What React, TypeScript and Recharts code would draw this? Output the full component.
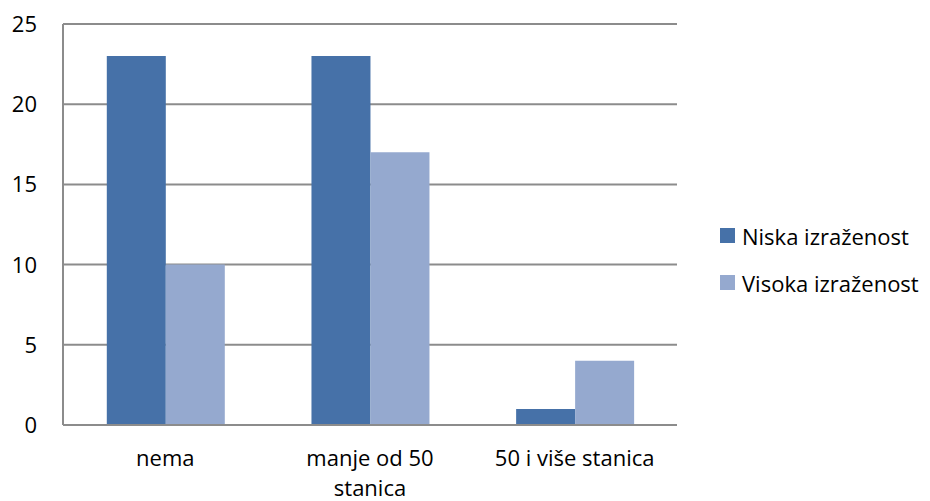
import React from 'react';
import { BarChart, Bar, XAxis, YAxis, CartesianGrid, Legend } from 'recharts';

const categories = ['nema', 'manje od 50 stanica', '50 i više stanica'];
const niska = [23, 23, 1];
const visoka = [10, 17, 4];
const yTicks = [0, 5, 10, 15, 20, 25];
const seriesNames = ['Niska izraženost', 'Visoka izraženost'];
const colors = ['#4671A8', '#95A9CF'];

const data = categories.map((c, i) => ({ name: c, niska: niska[i], visoka: visoka[i] }));

const FONT = "'Open Sans', sans-serif";
const FS = 22;

function wrapWords(text: string, maxWidth: number): string[] {
  let ctx: CanvasRenderingContext2D | null = null;
  try {
    ctx = document.createElement('canvas').getContext('2d');
  } catch (e) {
    ctx = null;
  }
  const measure = (s: string) => {
    if (ctx) {
      ctx.font = `${FS}px ${FONT}`;
      return ctx.measureText(s).width;
    }
    return s.length * FS * 0.55;
  };
  const words = text.split(' ');
  const lines: string[] = [];
  let cur = '';
  for (const w of words) {
    const t = cur ? cur + ' ' + w : w;
    if (cur && measure(t) > maxWidth) {
      lines.push(cur);
      cur = w;
    } else {
      cur = t;
    }
  }
  if (cur) lines.push(cur);
  return lines;
}

const XTick = (props: any) => {
  const { x, y, payload } = props;
  const lines = wrapWords(String(payload.value), 185);
  return (
    <text x={x} y={y + 41} textAnchor="middle" fill="#000" fontFamily={FONT} fontSize={FS}>
      {lines.map((l, i) => (
        <tspan key={i} x={x} dy={i === 0 ? 0 : 30}>
          {l}
        </tspan>
      ))}
    </text>
  );
};

const YTick = (props: any) => {
  const { x, y, payload } = props;
  return (
    <text x={x - 26} y={y + 8} textAnchor="end" fill="#000" fontFamily={FONT} fontSize={FS}>
      {payload.value}
    </text>
  );
};

const LegendContent = (props: any) => {
  const { payload } = props;
  return (
    <div style={{ fontFamily: FONT, fontSize: FS, color: '#000' }}>
      {(payload || []).map((p: any, i: number) => (
        <div key={i} style={{ display: 'flex', alignItems: 'center', height: 47 }}>
          <div style={{ width: 15, height: 15, background: p.color, marginRight: 7 }} />
          <span style={{ lineHeight: '22px', whiteSpace: 'nowrap' }}>{p.value}</span>
        </div>
      ))}
    </div>
  );
};

export default function App() {
  return (
    <div style={{ position: 'absolute', left: 0, top: 0, width: 930, height: 501, background: '#fff' }}>
      <BarChart
        width={930}
        height={501}
        data={data}
        margin={{ top: 24, right: 43, bottom: 0, left: 1 }}
        barCategoryGap="21.4%"
        barGap={0}
      >
        <CartesianGrid vertical={false} stroke="#8C8C8C" strokeWidth={2} />
        <XAxis
          dataKey="name"
          tick={<XTick />}
          tickLine={false}
          tickSize={0}
          tickMargin={0}
          height={76}
          interval={0}
          axisLine={{ stroke: '#8C8C8C', strokeWidth: 2 }}
        />
        <YAxis
          domain={[0, 25]}
          ticks={yTicks}
          tick={<YTick />}
          tickLine={false}
          tickSize={0}
          tickMargin={0}
          width={62}
          interval={0}
          axisLine={{ stroke: '#8C8C8C', strokeWidth: 2 }}
        />
        <Legend
          content={<LegendContent />}
          layout="vertical"
          verticalAlign="middle"
          align="right"
          wrapperStyle={{ position: 'absolute', left: 720, top: 212, width: 210 }}
        />
        <Bar dataKey="niska" name={seriesNames[0]} fill={colors[0]} isAnimationActive={false} />
        <Bar dataKey="visoka" name={seriesNames[1]} fill={colors[1]} isAnimationActive={false} />
      </BarChart>
    </div>
  );
}
